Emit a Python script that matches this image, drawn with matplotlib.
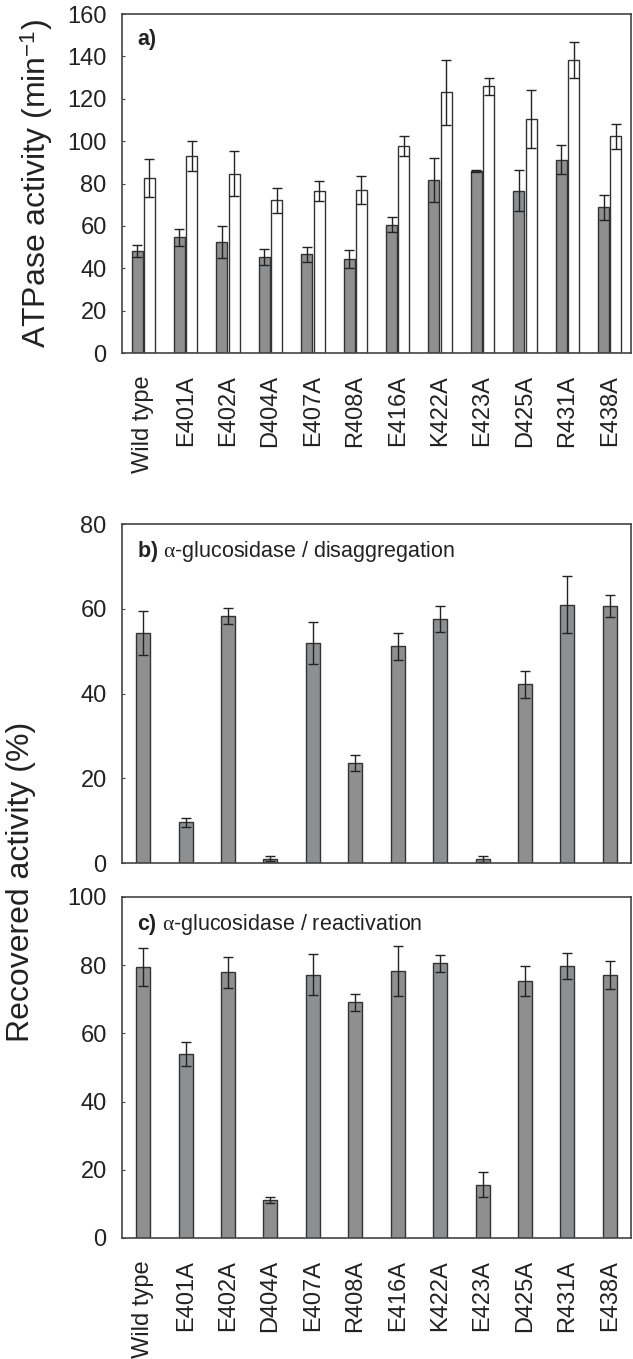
import numpy as np
import matplotlib as mpl
mpl.use('Agg')
import matplotlib.pyplot as plt

plt.rcParams['font.family'] = ['Liberation Sans', 'DejaVu Sans']
plt.rcParams['mathtext.fontset'] = 'custom'
plt.rcParams['mathtext.rm'] = 'Liberation Sans'
plt.rcParams['mathtext.bf'] = 'Liberation Sans:bold'
plt.rcParams['mathtext.it'] = 'Liberation Serif'

mutants = ['Wild type', 'E401A', 'E402A', 'D404A', 'E407A', 'R408A',
           'E416A', 'K422A', 'E423A', 'D425A', 'R431A', 'E438A']

# a) ATPase activity, gray and white series
atp_gray = [48.2, 54.6, 52.4, 45.4, 46.5, 44.3, 60.6, 81.6, 85.8, 76.5, 91.3, 68.8]
atp_gray_err = [3.0, 4.0, 7.5, 3.7, 3.6, 4.2, 3.6, 10.3, 0.5, 9.7, 6.7, 6.0]
atp_white = [82.7, 92.9, 84.7, 72.1, 76.5, 76.9, 97.5, 123.1, 125.8, 110.4, 138.3, 102.2]
atp_white_err = [9.0, 7.0, 10.5, 6.0, 4.6, 6.7, 4.7, 15.4, 3.9, 13.5, 8.4, 6.1]

# b) disaggregation
dis = [54.3, 9.6, 58.3, 1.0, 51.9, 23.6, 51.1, 57.5, 0.9, 42.2, 61.0, 60.7]
dis_err = [5.2, 1.0, 1.9, 0.6, 4.9, 1.9, 3.1, 3.1, 0.7, 3.2, 6.7, 2.6]

# c) reactivation
rea = [79.5, 53.9, 77.9, 11.1, 77.2, 69.1, 78.4, 80.5, 15.6, 75.4, 79.8, 77.0]
rea_err = [5.6, 3.5, 4.6, 0.9, 6.0, 2.5, 7.3, 2.4, 3.7, 4.4, 3.8, 4.1]

gray = '#8e8f90'
edge = '#333333'
axcol = '#444444'
txt = '#222222'

W, H = 633, 1359
fig = plt.figure(figsize=(W / 100, H / 100), dpi=100)


def make_ax(top, bottom):
    left, right = 122, 631
    return fig.add_axes([left / W, 1 - bottom / H, (right - left) / W, (bottom - top) / H])


def style(ax, ymax, step):
    for s in ax.spines.values():
        s.set_color(axcol)
        s.set_linewidth(1.2)
    ax.set_xlim(-0.5, 11.5)
    ax.set_ylim(0, ymax)
    ax.set_yticks(np.arange(0, ymax + 1, step))
    ax.tick_params(axis='y', direction='in', length=2, color=axcol, labelsize=17,
                   labelcolor=txt, pad=11)
    ax.tick_params(axis='x', length=0, labelsize=17, labelcolor=txt, pad=16)


x = np.arange(len(mutants))
ekw = dict(ecolor='#222222', elinewidth=1.0, capsize=3.5, capthick=1.0)

ax1 = make_ax(14, 353)
ax1.bar(x - 0.145, atp_gray, 0.26, color=gray, edgecolor=edge, linewidth=1.0,
        yerr=atp_gray_err, error_kw=ekw, zorder=2)
ax1.bar(x + 0.145, atp_white, 0.26, color='white', edgecolor=edge, linewidth=1.0,
        yerr=atp_white_err, error_kw=ekw, zorder=2)
style(ax1, 160, 20)
ax1.set_xticks(x)
ax1.set_xticklabels(mutants, rotation=90)
ax1.text(0.03, 0.955, 'a)', transform=ax1.transAxes, fontsize=15.5, fontweight='bold',
         va='top', ha='left', color=txt)
ax1.set_ylabel('ATPase activity (min$^{-1}$)', fontsize=23, color=txt, labelpad=9)

ax2 = make_ax(524, 863)
ax2.bar(x, dis, 0.33, color=gray, edgecolor=edge, linewidth=1.0,
        yerr=dis_err, error_kw=ekw, zorder=2)
style(ax2, 80, 20)
ax2.set_xticks(x)
ax2.set_xticklabels([])
ax2.text(0.03, 0.955, r'$\mathbf{b)}$ $\alpha$-glucosidase / disaggregation', transform=ax2.transAxes,
         fontsize=15.5, va='top', ha='left', color=txt)

ax3 = make_ax(897, 1238)
ax3.bar(x, rea, 0.33, color=gray, edgecolor=edge, linewidth=1.0,
        yerr=rea_err, error_kw=ekw, zorder=2)
style(ax3, 100, 20)
ax3.set_xticks(x)
ax3.set_xticklabels(mutants, rotation=90)
ax3.text(0.03, 0.955, r'$\mathbf{c)}$ $\alpha$-glucosidase / reactivation', transform=ax3.transAxes,
         fontsize=15.5, va='top', ha='left', color=txt)

fig.text(21 / W, 1 - 882 / H, 'Recovered activity (%)', rotation=90, fontsize=23,
         color=txt, ha='center', va='center')

plt.savefig('out.png', dpi=100)
